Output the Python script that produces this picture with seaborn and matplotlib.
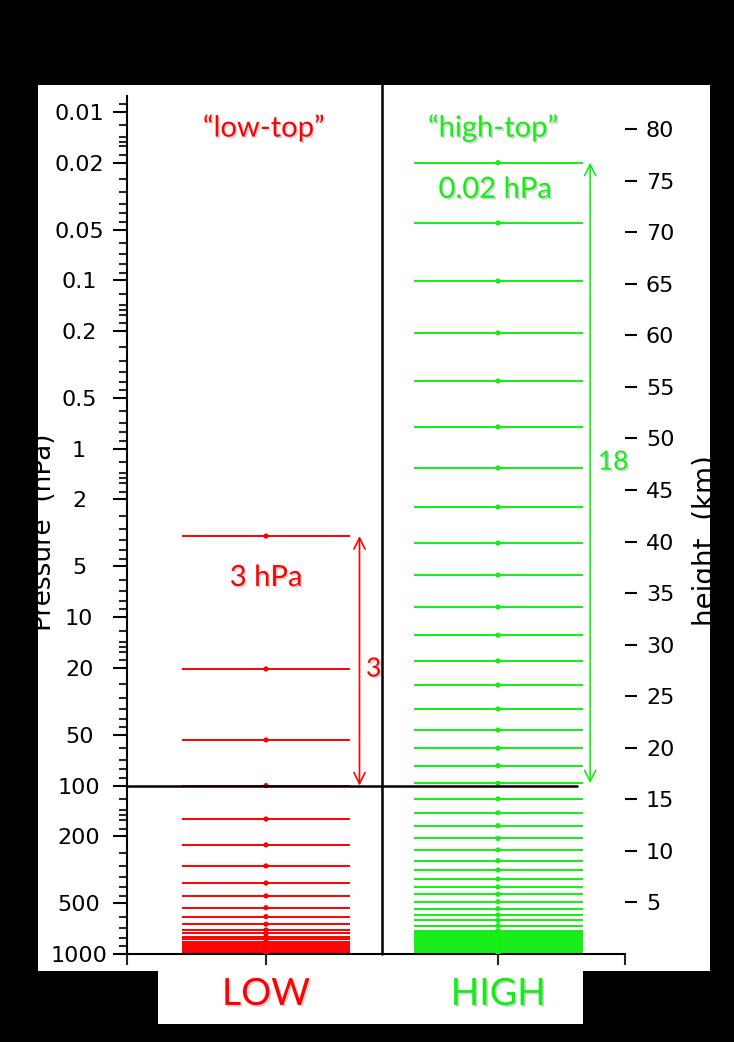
"""
Vertical model levels of a "low-top" and a "high-top" model.
"""

import matplotlib.pyplot as plt
import matplotlib.patheffects as pe
import pandas as pd
import seaborn as sns
from matplotlib.patches import Rectangle
from matplotlib.ticker import LogLocator, NullFormatter

# Model levels (hPa).
LOW_TOP_LEVELS = [
    3.3, 20.3, 53.6, 100, 158, 225, 300, 379, 452, 531, 600, 665,
    720, 755, 790, 820, 850, 875, 900, 925, 950, 970, 985, 1000,
]
HIGH_TOP_LEVELS = [
    0.020, 0.0456, 0.101, 0.205, 0.396, 0.742, 1.30, 2.22, 3.63, 5.62,
    8.70, 12.8, 18.2, 25.3, 35.1, 46.8, 60.0, 76.2, 96.9, 120, 145, 173,
    206, 241, 279, 317, 359, 400, 442, 489, 538, 587, 631, 679, 727, 750,
    771, 793, 815, 837, 860, 885, 909, 934, 960, 987, 1000,
]
MODELS = ["LOW", "HIGH"]

PRESSURE_TICKS = [0.01, 0.02, 0.05, 0.1, 0.2, 0.5, 1, 2, 5, 10, 20, 50,
                  100, 200, 500, 1000]
PRESSURE_LABELS = ["0.01", "0.02", "0.05", "0.1", "0.2", "0.5", "1", "2",
                   "5", "10", "20", "50", "100", "200", "500", "1000"]
HEIGHT_TICKS = [5, 10, 15, 20, 25, 30, 35, 40, 45, 50, 55, 60, 65, 70, 75, 80]

RED = "#ff0000"
GREEN = "#14ee14"
HALF_WIDTH = 0.364
X_LIMITS = (0.401, 2.547)

W, H = 734, 1042


def px_rect(x0, y0, x1, y1, color, zorder):
    """Rectangle given in pixels from the top-left corner."""
    return Rectangle((x0 / W, 1 - y1 / H), (x1 - x0) / W, (y1 - y0) / H,
                     transform=fig.transFigure, facecolor=color,
                     edgecolor="none", zorder=zorder)


sns.set_theme(style="white")
plt.rcParams["font.family"] = ["DejaVu Sans"]

fig = plt.figure(figsize=(W / 100, H / 100), dpi=100, facecolor="black")
fig.add_artist(px_rect(38, 85, 710, 971, "white", -10))
fig.add_artist(px_rect(158, 960, 583, 1024, "white", -10))

ax = fig.add_axes([127 / W, 1 - 954 / H, 498 / W, 858 / H])
ax.set_facecolor("none")
ax.set_yscale("log")

levels = pd.DataFrame({
    "model": ["LOW"] * len(LOW_TOP_LEVELS) + ["HIGH"] * len(HIGH_TOP_LEVELS),
    "pressure": LOW_TOP_LEVELS + HIGH_TOP_LEVELS,
})
levels["x"] = levels["model"].map({"LOW": 1, "HIGH": 2})

# one horizontal segment per level, with a dot at its centre
for model, color in zip(MODELS, [RED, GREEN]):
    sub = levels[levels["model"] == model]
    ax.hlines(sub["pressure"], sub["x"] - HALF_WIDTH, sub["x"] + HALF_WIDTH,
              color=color, lw=1.4, zorder=2)
sns.scatterplot(data=levels, x="x", y="pressure", hue="model",
                palette={"LOW": RED, "HIGH": GREEN}, s=14, linewidth=0,
                legend=False, ax=ax, zorder=3)

ax.set_xlim(*X_LIMITS)
ax.set_ylim(1000, 0.00804)

# dividing lines
ax.axvline(1.5, 0, 1.0128, color="black", lw=1.8, clip_on=False, zorder=4)
ax.hlines(100, X_LIMITS[0], 2.345, color="black", lw=1.8, zorder=4)

# arrows spanning the levels above 100 hPa
for xpos, top, bottom, color in [(1.403, LOW_TOP_LEVELS[0], 100, RED),
                                 (2.397, HIGH_TOP_LEVELS[0], 96.9, GREEN)]:
    ax.annotate("", xy=(xpos, top), xytext=(xpos, bottom),
                arrowprops=dict(arrowstyle="<->", color=color, lw=1.2,
                                mutation_scale=20, shrinkA=0, shrinkB=0))

shadow = [pe.withSimplePatchShadow(offset=(1.2, -1.2),
                                   shadow_rgbFace="0.6", alpha=0.45)]
note = dict(family="Lato", ha="center", va="center", path_effects=shadow)
ax.text(0.99, 0.01245, "\u201clow-top\u201d", color=RED, fontsize=21, **note)
ax.text(1.978, 0.01245, "\u201chigh-top\u201d", color=GREEN, fontsize=21, **note)
ax.text(1.0, 5.85, "3 hPa", color=RED, fontsize=21, **note)
ax.text(1.987, 0.029, "0.02 hPa", color=GREEN, fontsize=21, **note)
ax.text(1.431, 20.3, "3", color=RED, fontsize=19, family="Lato",
        ha="left", va="center", path_effects=shadow)
ax.text(2.43, 1.2, "18", color=GREEN, fontsize=19, family="Lato",
        ha="left", va="center", path_effects=shadow)

# LOW / HIGH labels under the axis
for model, color in zip(MODELS, [RED, GREEN]):
    ax.text(levels.loc[levels["model"] == model, "x"].iloc[0], -0.0594,
            model, transform=ax.get_xaxis_transform(), color=color,
            fontsize=27, family="Lato", ha="center", va="baseline",
            path_effects=shadow, clip_on=False)

# pressure axis
ax.set_yticks(PRESSURE_TICKS, PRESSURE_LABELS)
ax.yaxis.set_minor_locator(LogLocator(
    base=10, subs=[1.2, 1.4, 1.5, 1.6, 1.8, 2.5, 3, 3.5, 4, 4.5, 6, 7, 8, 9],
    numticks=30))
ax.yaxis.set_minor_formatter(NullFormatter())
ax.tick_params(axis="y", which="major", left=True, direction="out",
               length=10, width=1.5, pad=24.5, labelsize=16, colors="black")
ax.tick_params(axis="y", which="minor", left=True, direction="out",
               length=5.8, width=1.5)
plt.setp(ax.get_yticklabels(), ha="center")
ax.set_xticks([X_LIMITS[0], 1, 2, X_LIMITS[1]], ["", "", "", ""])
ax.tick_params(axis="x", bottom=True, direction="out", length=8, width=1.5)
ax.set_xlabel("")
ax.set_ylabel("Pressure  (hPa)", fontsize=19, color="black")
ax.yaxis.set_label_coords(-0.1406, 0.4918)
for side in ["top", "right"]:
    ax.spines[side].set_visible(False)
for side in ["left", "bottom"]:
    ax.spines[side].set_color("black")
    ax.spines[side].set_linewidth(1.5)

# height axis on the right, without a spine
ax2 = ax.twinx()
ax2.set_ylim(0, 83.2)
ax2.set_yticks(HEIGHT_TICKS)
ax2.tick_params(axis="y", right=True, direction="out", length=8.6,
                width=1.5, pad=6.5, labelsize=16, colors="black")
for side in ax2.spines:
    ax2.spines[side].set_visible(False)
ax2.set_ylabel("height  (km)", fontsize=20, color="black")
ax2.yaxis.set_label_coords(1.1345, 0.4814)

# black frame that cuts off the axis titles
fig.add_artist(px_rect(0, 0, 38, H, "black", 20))
fig.add_artist(px_rect(710, 0, W, H, "black", 20))

fig.savefig("out.png", dpi=100, facecolor="black")
